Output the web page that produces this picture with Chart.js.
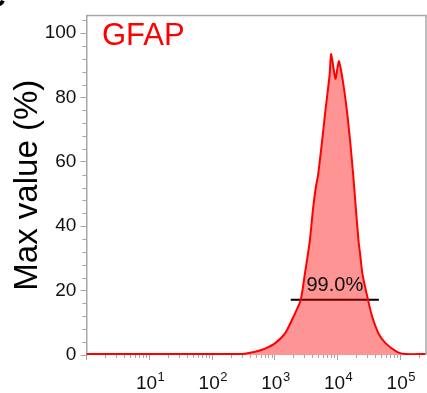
<!DOCTYPE html>
<html>
<head>
<meta charset="utf-8">
<script src="https://cdn.jsdelivr.net/npm/chart.js@4.4.1/dist/chart.umd.min.js"></script>
<style>
  html, body { margin: 0; padding: 0; background: #fff; }
  #wrap { width: 427px; height: 393px; }
</style>
</head>
<body>
<div id="wrap"><canvas id="histChart"></canvas></div>
<script>
// fluorescence intensity (x) and normalised count (% of max)
const intensity = [1, 10, 100, 200, 273, 355, 493, 708, 1030, 1479, 2004, 2612, 3055,
    3664, 4140, 4550, 4966, 5741, 6546, 7568, 8054, 9397, 10641, 11995, 14223,
    16181, 18072, 19907, 21979, 23281, 25410, 31333, 36475, 45814, 59156, 90365,
    123027, 262144];
const maxValue = [0.3, 0.3, 0.3, 0.3, 0.3, 0.5, 1.0, 2.0, 3.7, 6.7, 11.8, 16.9, 25.1,
    35.4, 45.6, 51.8, 55.9, 66.2, 76.4, 86.7, 93.5, 85.8, 91.3, 86.7, 76.4,
    66.2, 55.9, 45.6, 35.4, 31.4, 25.1, 16.9, 11.8, 6.7, 3.7, 1.0,
    0.3, 0.3];

// positive gate
const gateRange = [1820, 46400];
const gateLevel = 17.2;
const gateLabel = "99.0%";

const yTicks = [0, 20, 40, 60, 80, 100];
const xDecades = [1, 2, 3, 4, 5];
const markerName = "GFAP";

const FONT = "'Liberation Sans', Arial, Helvetica, sans-serif";
const AXIS_GREY = "#a6a6a6";

const decorations = {
    id: "decorations",
    afterDraw(chart) {
        const { ctx, chartArea: a, scales: { x, y } } = chart;
        ctx.save();

        // frame top + right
        ctx.strokeStyle = AXIS_GREY;
        ctx.lineWidth = 1.5;
        ctx.beginPath();
        ctx.moveTo(a.left, a.top);
        ctx.lineTo(a.right, a.top);
        ctx.lineTo(a.right, a.bottom);
        ctx.stroke();

        // y minor ticks
        ctx.lineWidth = 1;
        for (let v = 4; v <= 104; v += 4) {
            if (v % 20 === 0) continue;
            const py = Math.round(y.getPixelForValue(v)) + 0.5;
            ctx.beginPath();
            ctx.moveTo(a.left - 4, py);
            ctx.lineTo(a.left, py);
            ctx.stroke();
        }

        // x ticks, log decades with minors
        for (let e = 0; e <= 5; e++) {
            for (let m = 1; m <= 9; m++) {
                const v = m * Math.pow(10, e);
                if (v > x.max) break;
                const px = Math.round(x.getPixelForValue(v)) + 0.5;
                ctx.beginPath();
                ctx.moveTo(px, a.bottom);
                ctx.lineTo(px, a.bottom + (m === 1 ? 5 : 3));
                ctx.stroke();
            }
        }

        // x labels 10^n
        ctx.fillStyle = "#111";
        ctx.textBaseline = "alphabetic";
        ctx.textAlign = "left";
        xDecades.forEach(n => {
            const px = x.getPixelForValue(Math.pow(10, n));
            ctx.font = "19px " + FONT;
            const wBase = ctx.measureText("10").width;
            ctx.font = "13px " + FONT;
            const wExp = ctx.measureText(String(n)).width;
            const left = px - (wBase + wExp) / 2 + 1;
            ctx.font = "19px " + FONT;
            ctx.fillText("10", left, 389);
            ctx.font = "13px " + FONT;
            ctx.fillText(String(n), left + wBase + 0.5, 381);
        });

        // gate label
        const gx = x.getPixelForValue(Math.sqrt(gateRange[0] * gateRange[1]));
        const gy = y.getPixelForValue(gateLevel);
        ctx.font = "20px " + FONT;
        ctx.textAlign = "center";
        ctx.fillStyle = "#111";
        ctx.fillText(gateLabel, gx, gy - 9);

        // marker name
        ctx.font = "31px " + FONT;
        ctx.textAlign = "left";
        ctx.fillStyle = "#ff0000";
        ctx.fillText(markerName, 102, 45);

        // panel letter (cut off at the corner)
        ctx.font = "bold 30px " + FONT;
        ctx.fillStyle = "#000";
        ctx.fillText("C", -16, 7);

        ctx.restore();
    }
};

new Chart(document.getElementById("histChart"), {
    type: "line",
    data: {
        datasets: [{
            data: intensity.map((v, i) => ({ x: v, y: maxValue[i] })),
            borderColor: "#ff0000",
            backgroundColor: "rgba(255, 0, 0, 0.42)",
            borderWidth: 2,
            fill: "origin",
            tension: 0.2,
            pointRadius: 0
        }, {
            data: gateRange.map(v => ({ x: v, y: gateLevel })),
            borderColor: "#000",
            borderWidth: 2,
            fill: false,
            pointRadius: 0
        }]
    },
    options: {
        responsive: true,
        maintainAspectRatio: false,
        animation: false,
        layout: { padding: { top: 12, right: 1, bottom: 38, left: 5 } },
        plugins: {
            legend: { display: false },
            tooltip: { enabled: false }
        },
        scales: {
            x: {
                type: "logarithmic",
                min: 1,
                max: 262144,
                ticks: { display: false },
                grid: { display: false, drawTicks: false },
                border: { display: false }
            },
            y: {
                min: 0,
                max: 105.5,
                afterBuildTicks: scale => {
                    scale.ticks = yTicks.map(v => ({ value: v }));
                },
                ticks: {
                    color: "#111",
                    padding: 4,
                    font: { family: FONT, size: 19 }
                },
                grid: {
                    drawOnChartArea: false,
                    tickLength: 6,
                    tickColor: AXIS_GREY
                },
                border: { color: AXIS_GREY, width: 1.5 },
                title: {
                    display: true,
                    text: "Max value (%)",
                    color: "#000",
                    padding: { top: 10, bottom: 0 },
                    font: { family: FONT, size: 33, lineHeight: 0.78 }
                }
            }
        }
    },
    plugins: [decorations]
});
</script>
</body>
</html>
